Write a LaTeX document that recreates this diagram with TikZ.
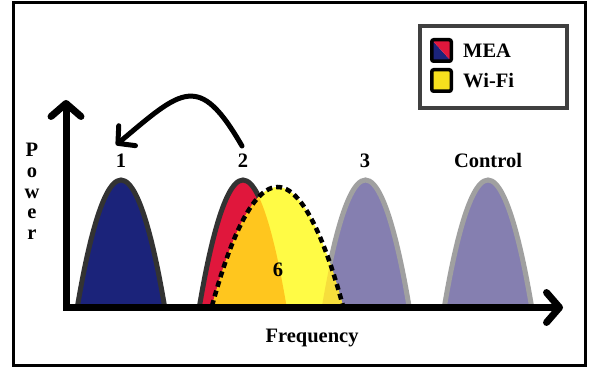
\documentclass[tikz,border=0pt]{standalone}
\usepackage{fontspec}
\setmainfont{Liberation Serif}
\usetikzlibrary{arrows.meta}

\definecolor{navy}{HTML}{1B237A}
\definecolor{meared}{HTML}{E0173C}
\definecolor{lav}{HTML}{857FB0}
\definecolor{wifiyel}{HTML}{FFFB45}
\definecolor{wifigold}{HTML}{FFC61E}
\definecolor{wifipale}{HTML}{F6DE3C}
\definecolor{swatchyel}{HTML}{F6E01E}
\definecolor{edgedark}{HTML}{333333}
\definecolor{edgegray}{HTML}{A0A0A0}
\definecolor{legendedge}{HTML}{404040}

% closed spectral hump: centre, half-width, top
\newcommand{\hump}[3]{({#1-#2},61) -- ({#1-#2},64) parabola bend (#1,#3) ({#1+#2},64) -- ({#1+#2},61) -- cycle}
% outline of the same hump, without its base
\newcommand{\humpline}[3]{({#1-#2},64) parabola bend (#1,#3) ({#1+#2},64)}

\tikzset{
  lbl/.style={font=\fontsize{20.5}{24}\selectfont\bfseries, inner sep=0pt},
  darkedge/.style={draw=edgedark, line width=5pt},
  grayedge/.style={draw=edgegray, line width=5pt},
  axisline/.style={line width=7pt, line cap=rect, -{Straight Barb[length=13pt,width=30pt,round]}},
  hoparrow/.style={line width=5pt, line cap=round, -{Straight Barb[length=12pt,width=26pt,round]}},
  swatch/.style={draw=black, line width=3.5pt, rounded corners=2pt, minimum width=19.5pt, minimum height=21.5pt, inner sep=0pt},
  legendbox/.style={draw=legendedge, line width=3.5pt, fill=white, minimum width=147pt, minimum height=82pt, inner sep=0pt}
}

\begin{document}
\begin{tikzpicture}[x=1pt,y=1pt]
\useasboundingbox (0,0) rectangle (590,370);
\fill[white] (0,0) rectangle (590,370);
\draw[line width=3pt] (13,4) rectangle (585,367);

% channel humps
\fill[navy] \hump{121}{43.5}{190};
\path[darkedge] \humpline{121}{43.5}{190};
\fill[meared] \hump{243}{43.5}{190};
\path[darkedge] \humpline{243}{43.5}{190};
\fill[lav] \hump{365.5}{43.5}{190};
\path[grayedge] \humpline{365.5}{43.5}{190};
\fill[lav] \hump{488}{43.5}{190};
\path[grayedge] \humpline{488}{43.5}{190};

% Wi-Fi hump and its overlaps
\fill[wifiyel] \hump{277.5}{65.5}{183};
\begin{scope}
  \clip \hump{277.5}{65.5}{183};
  \fill[wifigold] \hump{243}{43.5}{190};
  \fill[wifipale] \hump{365.5}{43.5}{190};
\end{scope}
\draw[line width=4.5pt, dash pattern=on 6pt off 4pt] \humpline{277.5}{65.5}{183};

% axes
\coordinate (origin) at (66,62.5);
\coordinate (ytip) at (66,270);
\coordinate (xtip) at (563,62.5);
\draw[axisline] (origin) -- (ytip);
\draw[axisline] (origin) -- (xtip);

% labels
\node[lbl, anchor=base] (lab1) at (121,202) {1};
\node[lbl, anchor=base] (lab2) at (243,202) {2};
\node[lbl, anchor=base] (lab3) at (365,202) {3};
\node[lbl, anchor=base] (labc) at (488,202) {Control};
\node[lbl, anchor=base] (lab6) at (278,93) {6};
\node[lbl, anchor=base] (freq) at (312,27) {Frequency};
\node[lbl, font=\fontsize{20.5}{20.75}\selectfont\bfseries, align=center, anchor=north] (power) at (32,227) {P\\o\\w\\e\\r};

% hop from channel 2 to channel 1
\coordinate (hopstart) at (242,224);
\coordinate (hopend) at (116,225);
\draw[hoparrow] (hopstart) to[out=120,in=40,looseness=1.75] (hopend);

% legend
\node[legendbox] (legend) at (493.5,303) {};
\node[swatch, path picture={
    \fill[navy] (path picture bounding box.north west) -- (path picture bounding box.south east) -- (path picture bounding box.south west) -- cycle;
    \fill[meared] (path picture bounding box.north west) -- (path picture bounding box.north east) -- (path picture bounding box.south east) -- cycle;
  }] (measwatch) at (441.5,319.5) {};
\node[swatch, fill=swatchyel] (wifiswatch) at (441.5,289.5) {};
\node[lbl, anchor=base west] (mealabel) at (463,312) {MEA};
\node[lbl, anchor=base west] (wifilabel) at (463,282) {Wi-Fi};
\end{tikzpicture}
\end{document}
